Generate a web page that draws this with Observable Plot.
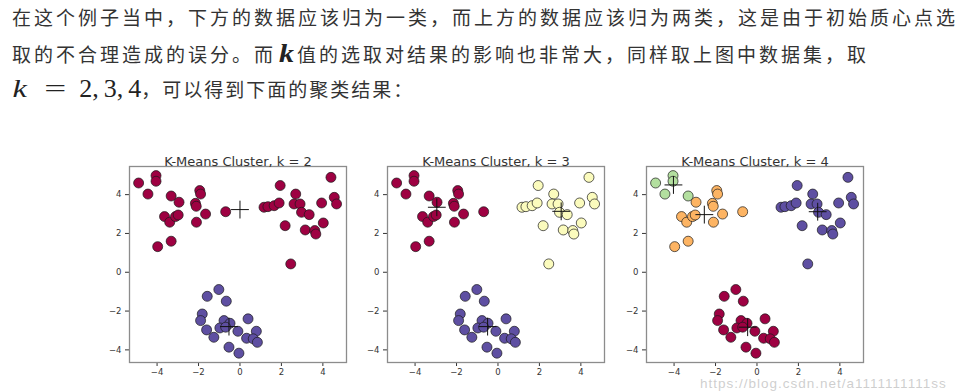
<!DOCTYPE html>
<html><head><meta charset="utf-8">
<script src="https://cdn.jsdelivr.net/npm/d3@7"></script>
<script src="https://cdn.jsdelivr.net/npm/@observablehq/plot@0.6"></script>
<style>
html,body{margin:0;padding:0;background:#fff;}
#page{position:relative;width:969px;height:391px;overflow:hidden;background:#fff;}
.line{position:absolute;left:12px;font-family:"Noto Sans CJK SC";font-size:19px;letter-spacing:3px;color:#333;white-space:nowrap;line-height:26px;}
.mk{display:inline-block;width:21px;text-align:center;font-family:"Liberation Serif";font-style:italic;font-weight:bold;font-size:25px;letter-spacing:0;transform:scaleX(1.2);vertical-align:baseline;color:#222;}
.math{font-family:"Liberation Serif";font-size:26px;letter-spacing:0;color:#222;}
.math i{display:inline-block;transform:scaleX(1.25);margin-left:2px;margin-right:10px;}
.math .eq{display:inline-block;transform:scaleX(1.5);margin:0 17px 0 12px;}
.math .sp{display:inline-block;width:5px;}
.after{letter-spacing:2px;}
.panel{position:absolute;}
.wm{position:absolute;left:700px;top:377px;font-family:"Liberation Sans";font-size:13.5px;line-height:14px;color:rgba(190,190,190,0.75);white-space:nowrap;letter-spacing:1px;}
</style></head><body><div id="page">
<div class="line" style="top:4px">在这个例子当中，下方的数据应该归为一类，而上方的数据应该归为两类，这是由于初始质心点选</div>
<div class="line" style="top:41px">取的不合理造成的误分。而<span class="mk">k</span>值的选取对结果的影响也非常大，同样取上图中数据集，取</div>
<div class="line" style="top:76px"><span class="math"><i>k</i><span class="eq">=</span>2,<span class="sp"></span>3,<span class="sp"></span>4</span><span class="after">，可以得到下面的聚类结果：</span></div>
<div id="p0" class="panel"></div>
<div id="p1" class="panel"></div>
<div id="p2" class="panel"></div>
<div class="wm">https://blog.csdn.net/a1111111111ss</div>
</div>
<script>
// sample points (upper-left group, upper-right group, bottom group)
const ptX = [
  -4.89,-4.05,-4.05,-4.44,-3.32,-2.94,-3.64,-3.39,-3.11,-2.98,-1.94,-1.90,-2.15,-2.11,-1.66,-2.10,-0.69,-3.97,-3.32,
  1.94,4.39,2.69,4.55,4.66,3.94,1.16,1.35,1.65,1.89,2.61,2.90,2.97,3.34,2.18,3.15,3.61,3.66,4.02,2.45,
  -1.02,-1.58,-0.66,-1.82,-1.90,-0.77,-0.48,-1.61,-1.26,-0.97,-0.69,-0.10,0.39,0.79,0.32,0.64,0.84,-0.53,-0.05
];
const ptY = [
  4.60,4.98,4.69,4.03,3.93,3.61,2.87,2.58,2.87,2.95,4.21,4.03,3.55,3.40,3.00,2.58,3.12,1.32,1.60,
  4.47,4.89,4.03,3.86,3.52,3.57,3.35,3.38,3.43,3.57,3.52,3.52,3.09,2.97,2.40,2.18,2.15,1.97,2.54,0.43,
  -0.89,-1.24,-1.49,-2.15,-2.49,-2.49,-2.63,-2.97,-3.35,-2.87,-2.83,-3.04,-2.40,-3.04,-3.40,-3.43,-3.61,-3.86,-4.17
];
const labelK2 = [
  0,0,0,0,0,0,0,0,0,0,0,0,0,0,0,0,0,0,0,
  0,0,0,0,0,0,0,0,0,0,0,0,0,0,0,0,0,0,0,0,
  1,1,1,1,1,1,1,1,1,1,1,1,1,1,1,1,1,1,1
];
const labelK3 = [
  0,0,0,0,0,0,0,0,0,0,0,0,0,0,0,0,0,0,0,
  1,1,1,1,1,1,1,1,1,1,1,1,1,1,1,1,1,1,1,1,
  2,2,2,2,2,2,2,2,2,2,2,2,2,2,2,2,2,2,2
];
const labelK4 = [
  2,2,2,2,2,1,1,1,1,1,1,1,1,1,1,1,1,1,1,
  3,3,3,3,3,3,3,3,3,3,3,3,3,3,3,3,3,3,3,3,
  0,0,0,0,0,0,0,0,0,0,0,0,0,0,0,0,0,0,0
];
const colorsK2 = ["#9e0142", "#5e4fa2"];
const colorsK3 = ["#9e0142", "#fbfbbd", "#5e4fa2"];
const colorsK4 = ["#9e0142", "#fdb463", "#b3df9f", "#5e4fa2"];
// centroids
const centK2X = [0.00, -0.53];
const centK2Y = [3.23, -2.80];
const centK3X = [-2.95, 3.05, -0.50];
const centK3Y = [3.35, 3.14, -2.80];
const centK4X = [-4.03, -2.54, 2.93, -0.45];
const centK4Y = [4.50, 2.97, 3.12, -2.83];
const titles = ["K-Means Cluster, k = 2", "K-Means Cluster, k = 3", "K-Means Cluster, k = 4"];
const xTicks = [-4, -2, 0, 2, 4];
const yTicks = [-4, -2, 0, 2, 4];

const panels = [
  {labels: labelK2, colors: colorsK2, cx: centK2X, cy: centK2Y},
  {labels: labelK3, colors: colorsK3, cx: centK3X, cy: centK3Y},
  {labels: labelK4, colors: colorsK4, cx: centK4X, cy: centK4Y}
];
const frameLefts = [129, 387, 646];
const mL = 30, mR = 10, mT = 30, mB = 25;

panels.forEach((p, i) => {
  const pts = ptX.map((x, j) => ({x, y: ptY[j], c: p.colors[p.labels[j]]}));
  const cents = p.cx.map((x, j) => ({x, y: p.cy[j]}));
  const chart = Plot.plot({
    width: mL + 217 + mR,
    height: mT + 196 + mB,
    marginLeft: mL, marginRight: mR, marginTop: mT, marginBottom: mB,
    x: {domain: [-5.33, 5.14], ticks: xTicks, tickSize: 4, tickPadding: 2, label: null},
    y: {domain: [-4.65, 5.45], ticks: yTicks, tickSize: 4, tickPadding: 4, label: null},
    color: {type: "identity"},
    style: {fontFamily: "DejaVu Sans", fontSize: "8.5px", color: "#333", background: "white", overflow: "visible"},
    marks: [
      Plot.dot(pts, {x: "x", y: "y", fill: "c", r: 5, stroke: "#1a1a1a", strokeWidth: 0.7}),
      Plot.dot(cents, {x: "x", y: "y", symbol: "plus", r: 5.8, stroke: "#111", strokeWidth: 1}),
      Plot.frame({stroke: "#8c8c8c", strokeWidth: 1.3}),
      Plot.text([titles[i]], {text: d => d, frameAnchor: "top", dy: -10, fontSize: 13, fill: "#333", fontFamily: "DejaVu Sans"})
    ]
  });
  const host = document.getElementById("p" + i);
  host.style.left = (frameLefts[i] - mL) + "px";
  host.style.top = (166 - mT) + "px";
  host.appendChild(chart);
});
</script>
</body></html>
